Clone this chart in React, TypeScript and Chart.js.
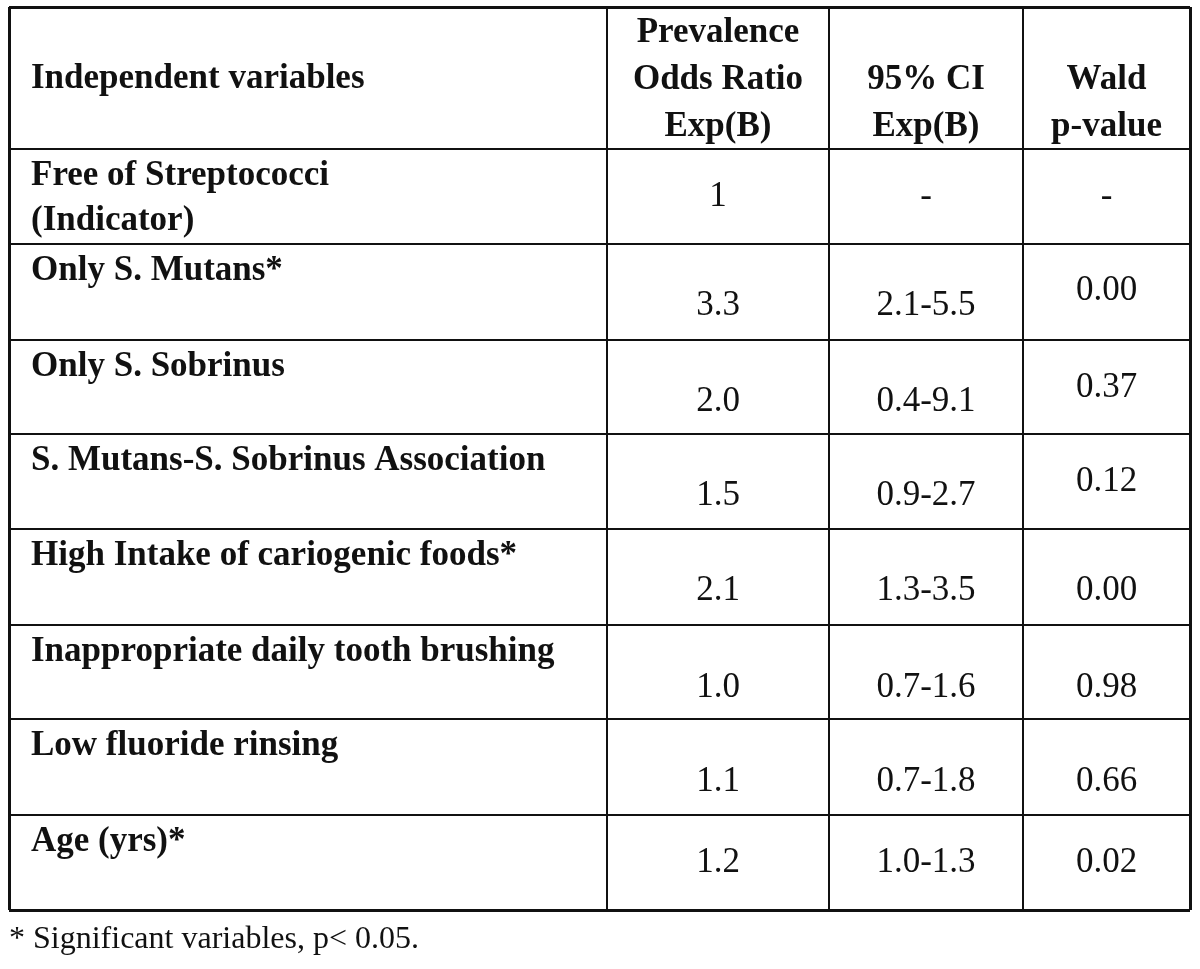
import React, { useEffect, useRef } from "react";
import { Chart, registerables } from "chart.js";

Chart.register(...registerables);

// ---------- data ----------
const headerLines: string[][] = [
  ["Independent variables"],
  ["Prevalence", "Odds Ratio", "Exp(B)"],
  ["95% CI", "Exp(B)"],
  ["Wald", "p-value"],
];
const variables: string[][] = [
  ["Free of Streptococci", "(Indicator)"],
  ["Only S. Mutans*"],
  ["Only S. Sobrinus"],
  ["S. Mutans-S. Sobrinus Association"],
  ["High Intake of cariogenic foods*"],
  ["Inappropriate daily tooth brushing"],
  ["Low fluoride rinsing"],
  ["Age (yrs)*"],
];
const oddsRatio: string[] = ["1", "3.3", "2.0", "1.5", "2.1", "1.0", "1.1", "1.2"];
const ci95: string[] = ["-", "2.1-5.5", "0.4-9.1", "0.9-2.7", "1.3-3.5", "0.7-1.6", "0.7-1.8", "1.0-1.3"];
const waldP: string[] = ["-", "0.00", "0.37", "0.12", "0.00", "0.98", "0.66", "0.02"];
const footnote = "* Significant variables, p< 0.05.";

// ---------- layout (scale units) ----------
const colEdges = [0, 598, 820, 1014, 1181];
const rowEdges = [0, 142, 237, 333, 427, 522, 618, 712, 808, 903];
const headerBaselines3 = [35, 82, 129];
const headerBaselines2 = [82, 129];
const labelBaselines = [36, 81];
const valueBaseline = [57, 71, 71, 71, 71, 72, 72, 57];
const waldBaseline = [57, 56, 57, 57, 71, 72, 72, 57];
const footnoteOffset = 38;

const FONT = "'Liberation Serif', 'Times New Roman', serif";
const INK = "#111";

const tablePlugin = {
  id: "tableText",
  afterDraw(chart: any) {
    const { ctx } = chart;
    const x = chart.scales.x;
    const y = chart.scales.y;
    const cx = (c: number) => x.getPixelForValue(colEdges[c]);
    const cy = (v: number) => y.getPixelForValue(v);
    const mid = (c: number) => (cx(c) + cx(c + 1)) / 2;
    ctx.save();
    ctx.fillStyle = INK;
    ctx.textBaseline = "alphabetic";

    // header
    ctx.font = `bold 35px ${FONT}`;
    ctx.textAlign = "left";
    ctx.fillText(headerLines[0][0], cx(0) + 22, cy(rowEdges[0] + 81));
    ctx.textAlign = "center";
    for (let c = 1; c < headerLines.length; c++) {
      const lines = headerLines[c];
      const bases = lines.length === 3 ? headerBaselines3 : headerBaselines2;
      lines.forEach((t, i) => ctx.fillText(t, mid(c), cy(rowEdges[0] + bases[i])));
    }

    // body
    for (let r = 0; r < variables.length; r++) {
      const top = rowEdges[r + 1];
      ctx.font = `bold 35px ${FONT}`;
      ctx.textAlign = "left";
      variables[r].forEach((t, i) => ctx.fillText(t, cx(0) + 22, cy(top + labelBaselines[i])));
      ctx.font = `35px ${FONT}`;
      ctx.textAlign = "center";
      ctx.fillText(oddsRatio[r], mid(1), cy(top + valueBaseline[r]));
      ctx.fillText(ci95[r], mid(2), cy(top + valueBaseline[r]));
      ctx.fillText(waldP[r], mid(3), cy(top + waldBaseline[r]));
    }

    // footnote
    ctx.font = `32px ${FONT}`;
    ctx.textAlign = "left";
    ctx.fillText(footnote, cx(0), cy(rowEdges[rowEdges.length - 1] + footnoteOffset));
    ctx.restore();
  },
};

export default function App() {
  const ref = useRef<HTMLCanvasElement | null>(null);
  useEffect(() => {
    if (!ref.current) return;
    const edgeWidth = (n: number) => (c: any) => (c.index === 0 || c.index === n - 1 ? 3 : 2);
    const chart = new Chart(ref.current, {
      type: "scatter",
      data: { datasets: [] },
      options: {
        animation: false,
        responsive: false,
        layout: { padding: { left: 9, top: 7, right: 10, bottom: 59 } },
        plugins: { legend: { display: false }, tooltip: { enabled: false }, title: { display: false } },
        scales: {
          x: {
            type: "linear",
            min: colEdges[0],
            max: colEdges[colEdges.length - 1],
            afterBuildTicks: (s: any) => {
              s.ticks = colEdges.map((v) => ({ value: v }));
            },
            ticks: { display: false },
            grid: { color: INK, lineWidth: edgeWidth(colEdges.length) as any, drawTicks: false },
            border: { display: false },
          },
          y: {
            type: "linear",
            reverse: true,
            min: rowEdges[0],
            max: rowEdges[rowEdges.length - 1],
            afterBuildTicks: (s: any) => {
              s.ticks = rowEdges.map((v) => ({ value: v }));
            },
            ticks: { display: false },
            grid: { color: INK, lineWidth: edgeWidth(rowEdges.length) as any, drawTicks: false },
            border: { display: false },
          },
        },
      },
      plugins: [tablePlugin],
    });
    return () => chart.destroy();
  }, []);
  return (
    <div style={{ position: "absolute", left: 0, top: 0, width: 1200, height: 969, background: "#fff" }}>
      <canvas ref={ref} width={1200} height={969} style={{ display: "block" }} />
    </div>
  );
}
